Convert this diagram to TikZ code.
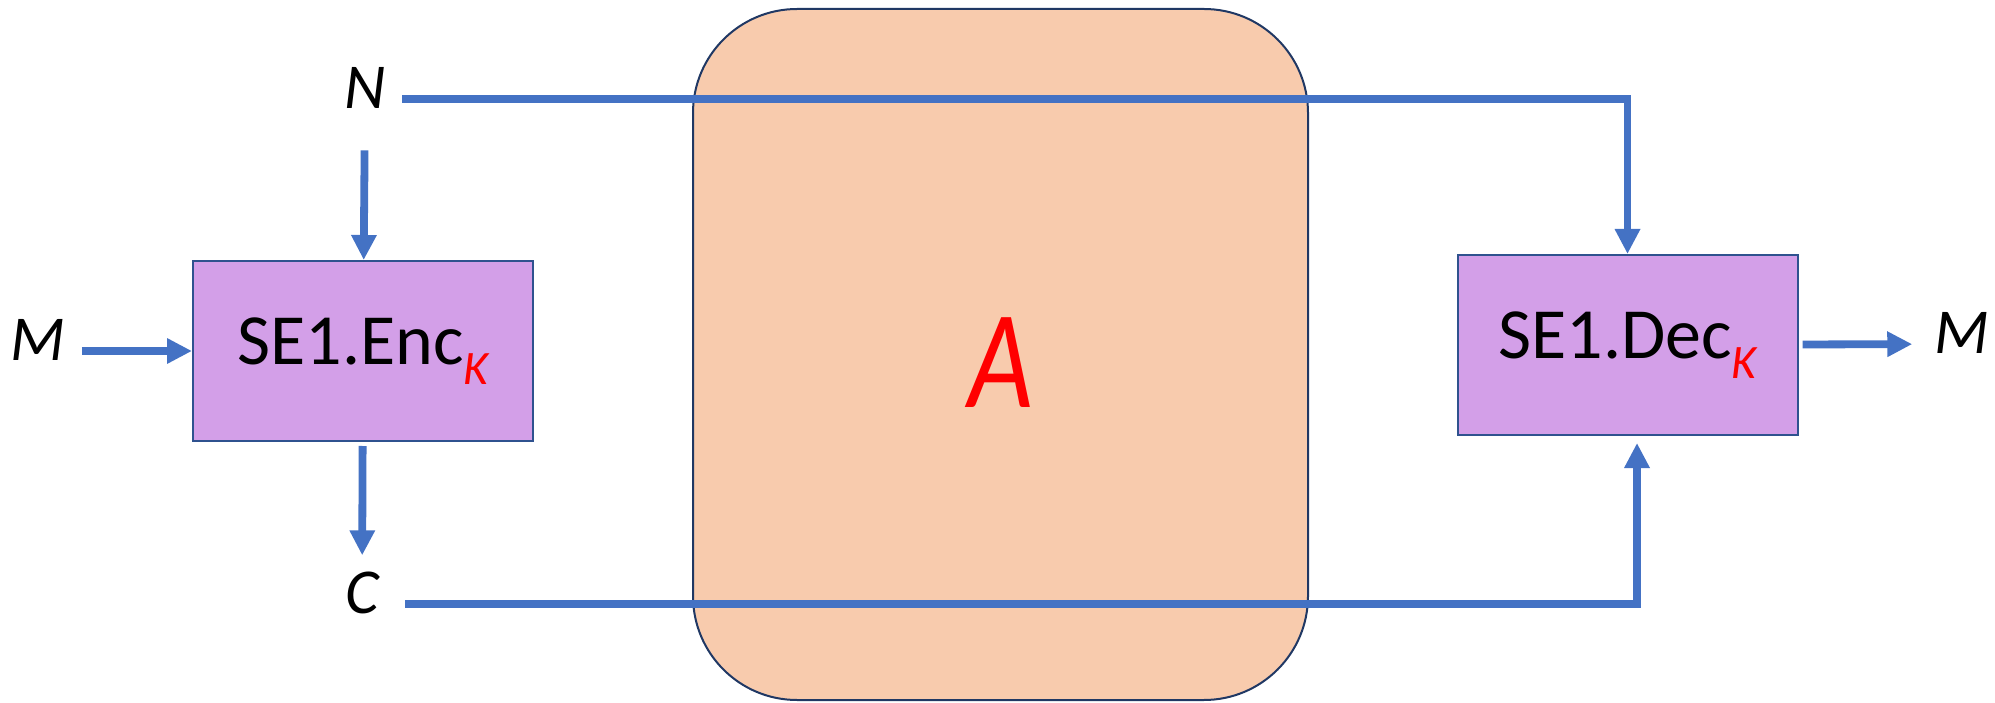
\documentclass[tikz,border=0pt]{standalone}
\usepackage{fontspec}
\setmainfont{Carlito}
\usepackage{tikz}
\usetikzlibrary{arrows.meta,positioning,calc}
\definecolor{wireblue}{HTML}{4472C4}
\definecolor{advfill}{HTML}{F8CBAD}
\definecolor{advline}{HTML}{203864}
\definecolor{algfill}{HTML}{D39FE8}
\definecolor{algline}{HTML}{2F528F}
\tikzset{
  >={Triangle[length=12.5pt,width=12pt]},
  alg/.style={draw=algline,fill=algfill,line width=1pt,minimum width=170pt,minimum height=90pt,inner sep=0pt,font=\fontsize{36}{40}\selectfont},
  adv/.style={draw=advline,fill=advfill,line width=1pt,rounded corners=52pt,minimum width=307.5pt,minimum height=345.5pt,inner sep=0pt,text=red,text height=53.5pt,text depth=0pt,font=\fontsize{70}{70}\selectfont\itshape},
  var/.style={font=\fontsize{32}{36}\selectfont\itshape,inner sep=8pt,text depth=11.5pt},
  wire/.style={->,draw=wireblue,line width=3.9pt},
}
\newcommand{\keysub}{\raisebox{-10pt}{\fontsize{24}{24}\selectfont\itshape\color{red}K}}

\begin{document}
\begin{tikzpicture}[x=0.5pt,y=0.5pt]
\useasboundingbox (0,0) rectangle (1995,702);
\node[adv] (A) at (1000.5,347.5) {\scalebox{0.8}[1]{A}};
\node[alg] (enc) at (363,351) {SE1.Enc\keysub};
\node[alg] (dec) at (1627.5,357) {SE1.Dec\keysub};
\node[var] (N) at (365,603) {N};
\node[var] (C) at (362,98) {C};
\node[var] (Min) at (38,351) {M};
\node[var] (Mout) at (1962,358) {M};
\draw[wire] (Min) -- (enc);
\draw[wire,shorten <=1.5pt] (N) -- (enc);
\draw[wire,shorten <=2pt] (enc) -- (C);
\draw[wire] (N.east) -| (dec.north);
\draw[wire,shorten <=5pt,shorten >=3.5pt] (C.east) -| ([xshift=4.75pt]dec.south);
\draw[wire,shorten <=2pt,shorten >=3pt] (dec) -- (Mout);
\end{tikzpicture}
\end{document}
